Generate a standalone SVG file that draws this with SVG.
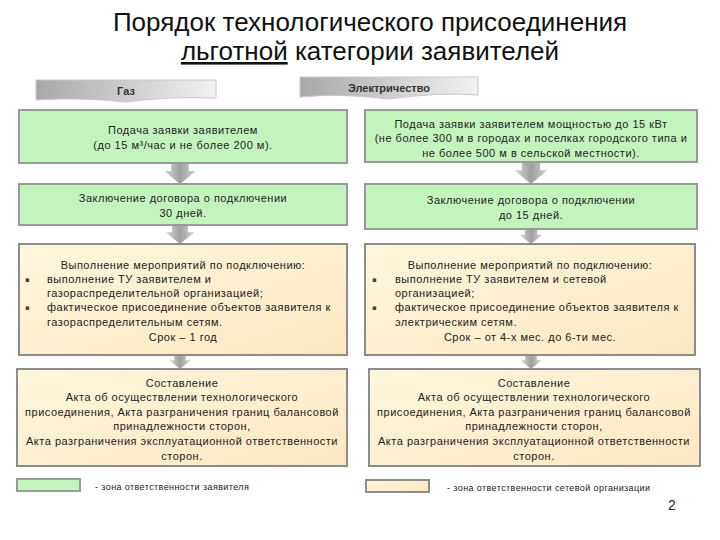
<svg xmlns="http://www.w3.org/2000/svg" width="720" height="540" viewBox="0 0 720 540">
<defs>
<linearGradient id="hdr" x1="0" y1="0" x2="1" y2="0"><stop offset="0" stop-color="#a8a8a8"/><stop offset="1" stop-color="#f2f2f2"/></linearGradient>
<linearGradient id="arr" x1="0" y1="0" x2="1" y2="0"><stop offset="0" stop-color="#d8d8d8"/><stop offset="0.5" stop-color="#a0a0a0"/><stop offset="1" stop-color="#d0d0d0"/></linearGradient>
<linearGradient id="yel" x1="0" y1="0" x2="1" y2="1"><stop offset="0" stop-color="#fff6dc"/><stop offset="1" stop-color="#fbe8c2"/></linearGradient>
<symbol id="arrow" viewBox="0 0 40 24" overflow="visible"><polygon points="10,0 30,0 30,9 38,9 20,24 2,9 10,9" fill="url(#arr)"/></symbol>
</defs>
<style>
text{font-family:"Liberation Sans",Arial,sans-serif;fill:#222}
.t{font-size:26px;fill:#111}
.h{font-size:11px;font-weight:bold;fill:#333;text-anchor:middle}
.b{font-size:11px;letter-spacing:0.5px;text-anchor:middle}
.l{font-size:11px;letter-spacing:0.5px}
.bu{font-size:7px;font-family:"DejaVu Sans",sans-serif;fill:#444}
.g{fill:#c4f4be;stroke:#9a9a9a;stroke-width:2}
.y{fill:url(#yel);stroke:#8c8c8c;stroke-width:2}
.hd{fill:url(#hdr);stroke:#c8c8c8;stroke-width:1}
.lg{font-size:9px;letter-spacing:0.4px}
</style>
<g id="title">
<text class="t" x="370" y="31" text-anchor="middle">Порядок технологического присоединения</text>
<text class="t" x="370" y="60" text-anchor="middle"><tspan text-decoration="underline">льготной</tspan> категории заявителей</text>
</g>
<g id="hdr-gas">
<path class="hd" d="M36,80 H216 V98 Q170,96 126,102 Q80,97 36,100 Z"/>
<text class="h" x="126" y="95">Газ</text>
</g>
<g id="hdr-el">
<path class="hd" d="M300,77 H478 V95 Q440,92 389,99 Q340,93 300,97 Z"/>
<text class="h" x="389" y="92">Электричество</text>
</g>
<g id="connectors">
<use href="#arrow" x="160" y="163" width="40" height="21"/>
<use href="#arrow" x="160" y="225" width="40" height="19"/>
<use href="#arrow" x="160" y="355" width="40" height="14"/>
<use href="#arrow" x="511" y="162" width="40" height="22"/>
<use href="#arrow" x="511" y="229" width="40" height="15"/>
<use href="#arrow" x="511" y="355" width="40" height="14"/>
</g>
<g id="gas1">
<rect class="g" x="19" y="110" width="328" height="53"/>
<text class="b" x="183" y="134">Подача заявки заявителем</text>
<text class="b" x="183" y="149">(до 15 м³/час и не более 200 м).</text>
</g>
<g id="gas2">
<rect class="g" x="19" y="184" width="328" height="41"/>
<text class="b" x="183" y="202">Заключение договора о подключении</text>
<text class="b" x="183" y="217">30 дней.</text>
</g>
<g id="gas3">
<rect class="y" x="19" y="244" width="328" height="111"/>
<text class="b" x="183" y="269">Выполнение мероприятий по подключению:</text>
<text class="bu" x="25" y="282">▪</text>
<text class="l" x="47" y="283">выполнение ТУ заявителем и</text>
<text class="l" x="47" y="297">газораспределительной организацией;</text>
<text class="bu" x="25" y="310">▪</text>
<text class="l" x="47" y="311">фактическое присоединение объектов заявителя к</text>
<text class="l" x="47" y="326">газораспределительным сетям.</text>
<text class="b" x="183" y="341">Срок – 1 год</text>
</g>
<g id="gas4">
<rect class="y" x="17" y="369" width="330" height="97"/>
<text class="b" x="182" y="387">Составление</text>
<text class="b" x="182" y="401">Акта об осуществлении технологического</text>
<text class="b" x="182" y="416">присоединения, Акта разграничения границ балансовой</text>
<text class="b" x="182" y="430">принадлежности сторон,</text>
<text class="b" x="182" y="445">Акта разграничения эксплуатационной ответственности</text>
<text class="b" x="182" y="460">сторон.</text>
</g>
<g id="el1">
<rect class="g" x="365" y="110" width="332" height="52"/>
<text class="b" x="531" y="128">Подача заявки заявителем мощностью до 15 кВт</text>
<text class="b" x="531" y="142">(не более 300 м в городах и поселках городского типа и</text>
<text class="b" x="531" y="157">не более 500 м в сельской местности).</text>
</g>
<g id="el2">
<rect class="g" x="365" y="184" width="332" height="45"/>
<text class="b" x="531" y="204">Заключение договора о подключении</text>
<text class="b" x="531" y="219">до 15 дней.</text>
</g>
<g id="el3">
<rect class="y" x="365" y="244" width="330" height="111"/>
<text class="b" x="530" y="269">Выполнение мероприятий по подключению:</text>
<text class="bu" x="372" y="282">▪</text>
<text class="l" x="395" y="283">выполнение ТУ заявителем и сетевой</text>
<text class="l" x="395" y="297">организацией;</text>
<text class="bu" x="372" y="310">▪</text>
<text class="l" x="395" y="311">фактическое присоединение объектов заявителя к</text>
<text class="l" x="395" y="326">электрическим сетям.</text>
<text class="b" x="530" y="341">Срок – от 4-х мес. до 6-ти мес.</text>
</g>
<g id="el4">
<rect class="y" x="369" y="369" width="331" height="97"/>
<text class="b" x="534" y="387">Составление</text>
<text class="b" x="534" y="401">Акта об осуществлении технологического</text>
<text class="b" x="534" y="416">присоединения, Акта разграничения границ балансовой</text>
<text class="b" x="534" y="430">принадлежности сторон,</text>
<text class="b" x="534" y="445">Акта разграничения эксплуатационной ответственности</text>
<text class="b" x="534" y="460">сторон.</text>
</g>
<g id="legend-green">
<rect class="g" x="17" y="479" width="63" height="12"/>
<text class="lg" x="95" y="490">- зона ответственности заявителя</text>
</g>
<g id="legend-yellow">
<rect class="y" x="366" y="480" width="63" height="12"/>
<text class="lg" x="447" y="491">- зона ответственности  сетевой организации</text>
</g>
<g id="page"><text x="672" y="510" font-size="14" text-anchor="middle">2</text></g>
</svg>
